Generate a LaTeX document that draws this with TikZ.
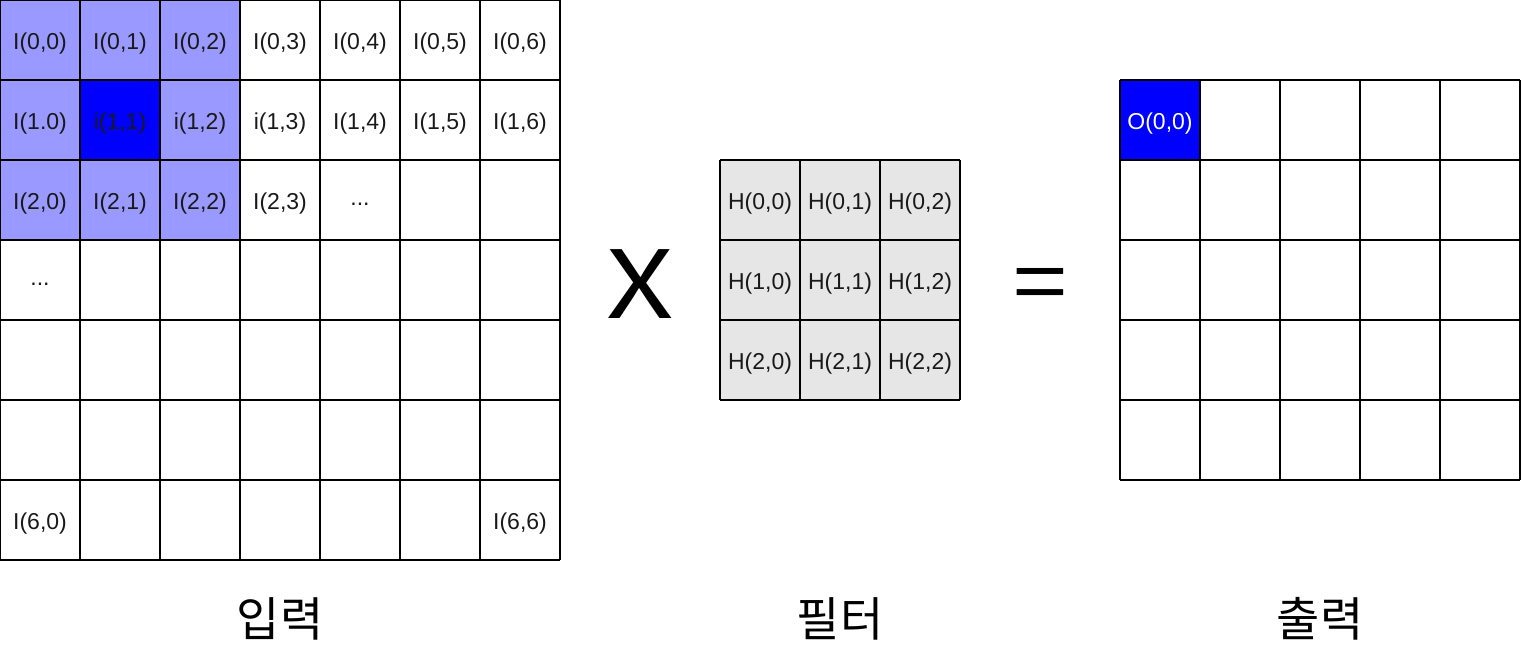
\documentclass[tikz,border=0pt]{standalone}
\usepackage{fontspec}
\setmainfont{Liberation Sans}
\newfontfamily\kofont{Noto Sans CJK KR}
\definecolor{lilac}{HTML}{9999FF}
\definecolor{pureblue}{HTML}{0000FF}
\definecolor{filtergray}{HTML}{E6E6E6}
\tikzset{
  txt/.style={font=\fontsize{23}{25}\selectfont, text=black!90},
  bigsym/.style={font=\kofont\fontsize{#1}{#1}\selectfont},
  caption/.style={font=\kofont\fontsize{47}{50}\selectfont}
}
\begin{document}
\begin{tikzpicture}[x=1pt,y=-1pt,line width=2pt]
\useasboundingbox (0,0) rectangle (1522,650);
% fills
\fill[lilac] (0,0) rectangle (240,240);
\fill[pureblue] (80,80) rectangle (160,160);
\fill[filtergray] (720,160) rectangle (960,400);
\fill[pureblue] (1120,80) rectangle (1200,160);
% input grid 7x7
\foreach \i in {0,...,7} {
  \draw (80*\i,0) -- (80*\i,560);
  \draw (0,80*\i) -- (560,80*\i);
}
% filter grid 3x3
\foreach \i in {0,...,3} {
  \draw (720+80*\i,160) -- (720+80*\i,400);
  \draw (720,160+80*\i) -- (960,160+80*\i);
}
% output grid 5x5
\foreach \i in {0,...,5} {
  \draw (1120+80*\i,80) -- (1120+80*\i,480);
  \draw (1120,80+80*\i) -- (1520,80+80*\i);
}
% input labels
\foreach \c in {0,...,6}
  \node[txt] (in0\c) at (40+80*\c,44) {I(0,\c)};
\node[txt] (in10) at (40,124) {I(1.0)};
\node[txt] (in11) at (120,124) {i(1,1)};
\node[txt] (in12) at (200,124) {i(1,2)};
\node[txt] (in13) at (280,124) {i(1,3)};
\foreach \c in {4,5,6}
  \node[txt] (in1\c) at (40+80*\c,124) {I(1,\c)};
\foreach \c in {0,...,3}
  \node[txt] (in2\c) at (40+80*\c,204) {I(2,\c)};
\node[txt] (in24) at (360,204) {...};
\node[txt] (in30) at (40,284) {...};
\node[txt] (in60) at (40,524) {I(6,0)};
\node[txt] (in66) at (520,524) {I(6,6)};
% filter labels
\foreach \r in {0,1,2}
  \foreach \c in {0,1,2}
    \node[txt] (h\r\c) at (760+80*\c,204+80*\r) {H(\r,\c)};
% output label
\node[txt,text=white] (out00) at (1160,124) {O(0,0)};
% operators
\node[bigsym=94,xscale=1.25] (times) at (640,284) {X};
\node[bigsym=88,xscale=1.1] (equals) at (1040,291) {=};
% captions
\node[caption] (capin) at (280,619) {입력};
\node[caption] (capfilter) at (840,619) {필터};
\node[caption] (capout) at (1320,619) {출력};
\end{tikzpicture}
\end{document}
